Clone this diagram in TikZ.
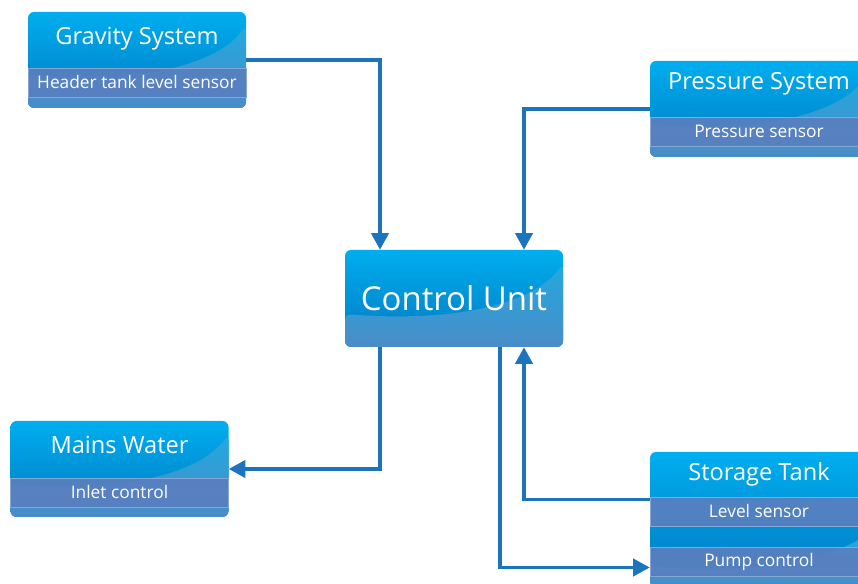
\documentclass[tikz,border=0pt]{standalone}
\usepackage{fontspec}
\setmainfont{Open Sans}
\usetikzlibrary{positioning,calc,arrows.meta}

\definecolor{cyantop}{HTML}{00AEEF}
\definecolor{bluedeep}{HTML}{0079C0}
\definecolor{glosstop}{HTML}{22A9DF}
\definecolor{glossbot}{HTML}{4A8CC7}
\definecolor{bandblue}{HTML}{5A7FBF}
\definecolor{bandline}{HTML}{86A6D6}
\definecolor{linkblue}{HTML}{1C74BC}

\begin{document}
\begin{tikzpicture}[x=0.75pt,y=-0.75pt,
  panel/.style 2 args={rounded corners=4.5pt, inner sep=0pt, minimum width=163.5pt,
    path picture={
      \shade[top color=cyantop, bottom color=bluedeep]
        (path picture bounding box.north west) rectangle (path picture bounding box.south east);
      \shade[top color=glosstop, bottom color=glossbot]
        let \p1=(path picture bounding box.north west), \p2=(path picture bounding box.south east),
            \n1={\x2-\x1}, \n2={\y1-\y2} in
        (\x1,{\y1-#1*\n2})
          .. controls ({\x1+0.45*\n1},{\y1-(#1+0.08)*\n2}) and ({\x1+0.85*\n1},{\y1-(#1-0.06)*\n2}) ..
        (\x2,{\y1-#2*\n2}) -- (\x2,\y2) -- (\x1,\y2) -- cycle;
    }},
  band/.style={fill=bandblue, fill opacity=0.9, text opacity=1, draw=bandline, line width=0.4pt,
    minimum width=163.5pt, minimum height=21.75pt, inner sep=0pt, anchor=north,
    text=white, font=\fontsize{13}{15}\selectfont},
  heading/.style={text=white, font=\fontsize{17.7}{20}\selectfont},
  link/.style={draw=linkblue, line width=2.4pt, -{Triangle[length=12.5pt,width=13pt]}}]

\useasboundingbox (0,0) rectangle (858,584);
\clip (0,0) rectangle (858,584);

% Main boxes
\node (grav) [panel={0.66}{0.14}, minimum height=72pt] at (137,60) {};
\node [heading] at ($(grav.north)+(0,27)$) {Gravity System};
\node (gravsub) [band] at ($(grav.north)+(0,56)$) {Header tank level sensor};

\node (press) [panel={0.66}{0.14}, minimum height=72pt] at (759,109) {};
\node [heading] at ($(press.north)+(0,23)$) {Pressure System};
\node (presssub) [band] at ($(press.north)+(0,56)$) {Pressure sensor};

\node (ctrl) [panel={0.66}{0.14}, minimum height=72.75pt, text=white, font=\fontsize{24.7}{28}\selectfont] at (454,298.5) {Control Unit};

\node (mains) [panel={0.66}{0.14}, minimum height=72pt] at (119.5,469) {};
\node [heading] at ($(mains.north)+(0,24)$) {Mains Water};
\node (mainssub) [band] at ($(mains.north)+(0,57)$) {Inlet control};

\node (store) [panel={0.84}{0.6}, minimum height=101.25pt] at (759,519.5) {};
\node [heading] at ($(store.north)+(0,23)$) {Storage Tank};
\node (storelevel) [band] at ($(store.north)+(0,45)$) {Level sensor};
\node (storepump) [band] at ($(store.north)+(0,95)$) {Pump control};

% Connectors
\draw [link] (grav.east) -| ($(ctrl.north)+(-74,0)$);
\draw [link] (press.west) -| ($(ctrl.north)+(70,0)$);
\draw [link] ($(ctrl.south)+(-74,0)$) |- (mains.east);
\draw [link] ($(storelevel.north west)+(0,3)$) -| ($(ctrl.south)+(70,0)$);
\draw [link] ($(ctrl.south)+(46,0)$) |- ($(storepump.west)+(0,6)$);
\end{tikzpicture}
\end{document}
